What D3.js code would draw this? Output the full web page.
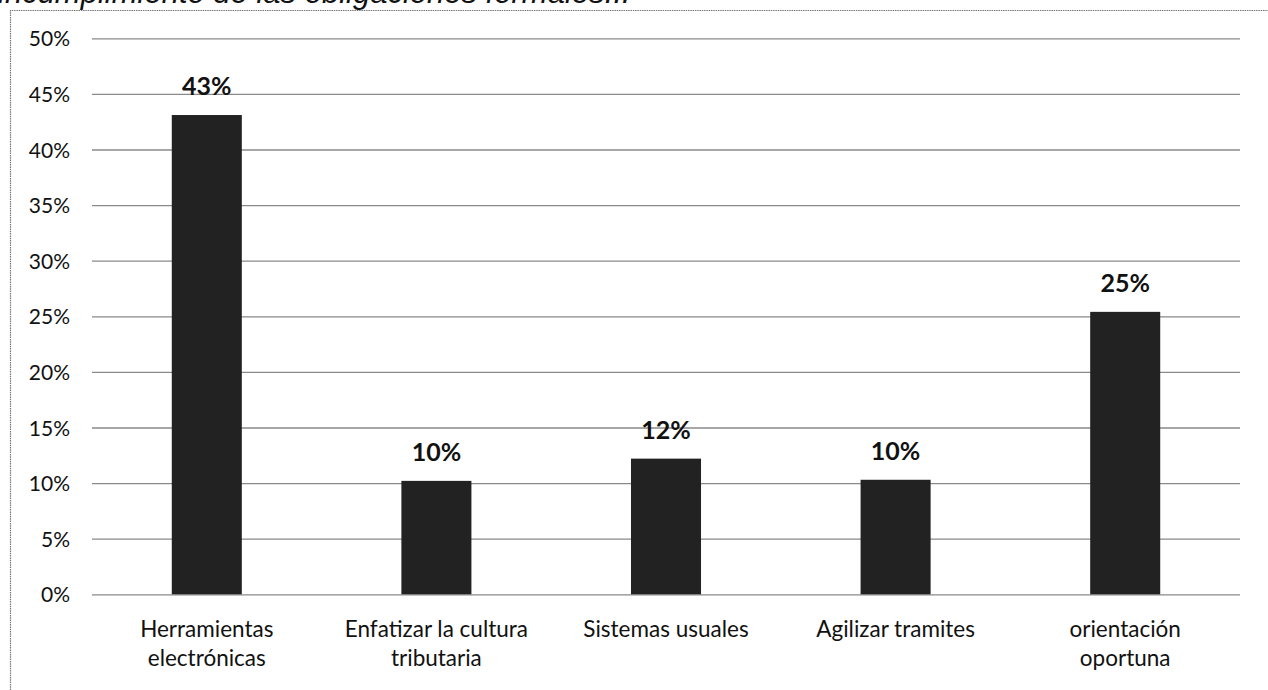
<!DOCTYPE html>
<html>
<head>
<meta charset="utf-8">
<script src="https://cdn.jsdelivr.net/npm/d3@7"></script>
<style>
    html, body { margin: 0; padding: 0; background: #fff; }
    svg { display: block; }
    .tick-label { font-family: Lato, "Open Sans", sans-serif; font-size: 21px; fill: #111; }
    .cat-label { font-family: Lato, "Open Sans", sans-serif; font-size: 22.5px; fill: #111; }
    .value-label { font-family: Lato, "Open Sans", sans-serif; font-size: 25px; font-weight: bold; fill: #111; }
    .title { font-family: "Liberation Sans", Arial, sans-serif; font-size: 31px; font-style: italic; fill: #111; }
</style>
</head>
<body>
<svg id="chart"></svg>
<script>
// --- DATA ---
const categories = [
    ['Herramientas', 'electrónicas'],
    ['Enfatizar la cultura', 'tributaria'],
    ['Sistemas usuales'],
    ['Agilizar tramites'],
    ['orientación', 'oportuna']
];
const values = [0.431, 0.102, 0.122, 0.103, 0.254];
const yTicks = [0, 0.05, 0.10, 0.15, 0.20, 0.25, 0.30, 0.35, 0.40, 0.45, 0.50];
const titleText = 'incumplimiento de las obligaciones formales...';

document.addEventListener('DOMContentLoaded', () => {
    const width = 1268;
    const height = 690;
    const plot = { left: 92, right: 1240, top: 38.3, bottom: 594.3 };

    const svg = d3.select('#chart')
        .attr('width', width)
        .attr('height', height);

    // title, cut off at the top edge like the scan
    svg.append('text')
        .attr('class', 'title')
        .attr('x', -2)
        .attr('y', 3)
        .text(titleText);

    // chart frame (only top and left edges visible)
    svg.append('path')
        .attr('d', `M10.5,${height} V10.5 H${width}`)
        .attr('fill', 'none')
        .attr('stroke', '#777')
        .attr('stroke-width', 1.2)
        .attr('stroke-dasharray', '1.5,0.8');

    const x = d3.scaleBand()
        .domain(categories.map((c, i) => i))
        .range([plot.left, plot.right])
        .paddingInner(0.695)
        .paddingOuter(0.3475);

    const y = d3.scaleLinear()
        .domain([0, 0.5])
        .range([plot.bottom, plot.top]);

    // gridlines + y labels
    const yAxis = d3.axisLeft(y)
        .tickValues(yTicks)
        .tickFormat(d3.format('.0%'))
        .tickSize(-(plot.right - plot.left))
        .tickPadding(22);

    const gy = svg.append('g')
        .attr('transform', `translate(${plot.left},0)`)
        .call(yAxis);
    gy.select('.domain').remove();
    gy.selectAll('.tick line')
        .attr('stroke', '#8a8a8a')
        .attr('stroke-width', 1.3);
    gy.selectAll('.tick text')
        .attr('class', 'tick-label')
        .attr('font-family', null)
        .attr('font-size', null)
        .attr('fill', null)
        .attr('dy', '0.36em');

    // bars
    svg.selectAll('.bar')
        .data(values)
        .enter().append('rect')
        .attr('class', 'bar')
        .attr('x', (d, i) => x(i))
        .attr('y', d => y(d))
        .attr('width', x.bandwidth())
        .attr('height', d => y(0) - y(d))
        .attr('fill', '#222');

    // value labels
    svg.selectAll('.value-label')
        .data(values)
        .enter().append('text')
        .attr('class', 'value-label')
        .attr('x', (d, i) => x(i) + x.bandwidth() / 2)
        .attr('y', d => y(d) - 20)
        .attr('text-anchor', 'middle')
        .text(d => d3.format('.0%')(d));

    // category labels, one tspan per line
    const catLabels = svg.selectAll('.cat-label')
        .data(categories)
        .enter().append('text')
        .attr('class', 'cat-label')
        .attr('text-anchor', 'middle')
        .attr('x', (d, i) => x(i) + x.bandwidth() / 2)
        .attr('y', 637);

    catLabels.each(function (lines, i) {
        const t = d3.select(this);
        lines.forEach((line, j) => {
            t.append('tspan')
                .attr('x', x(i) + x.bandwidth() / 2)
                .attr('dy', j === 0 ? 0 : 29)
                .text(line);
        });
    });
});
</script>
</body>
</html>
